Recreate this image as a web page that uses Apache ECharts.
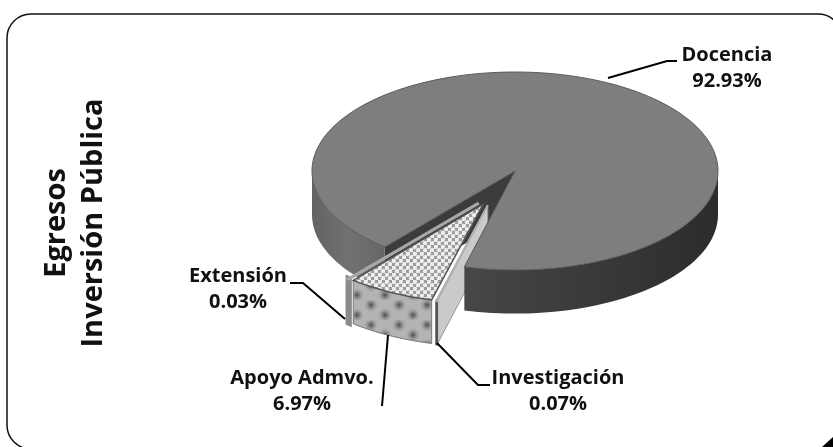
<!DOCTYPE html>
<html>
<head>
<meta charset="utf-8">
<script src="https://cdn.jsdelivr.net/npm/echarts@6/dist/echarts.min.js"></script>
<style>
html, body { margin: 0; padding: 0; background: #fff; overflow: hidden; }
#main { width: 833px; height: 447px; }
</style>
</head>
<body>
<div id="main"></div>
<script>
// datos del grafico, en el orden en que giran las rebanadas
var categories = ['Docencia', 'Investigación', 'Apoyo Admvo.', 'Extensión'];
var shares = [92.93, 0.07, 6.97, 0.03];
var titleLines = ['Egresos', 'Inversión Pública'];

var START_ANGLE = 129.9; // donde empieza Docencia, en sentido horario desde el este
var DEPTH = 0.44;        // alto del cilindro, en unidades del eje y
var EXPLODE = 0.37;      // separacion de las rebanadas
var FONT = '"Open Sans", sans-serif';

// texturas de Apoyo Admvo.
function dotPattern() {
  var c = document.createElement('canvas');
  c.width = 7; c.height = 7;
  var g = c.getContext('2d');
  g.fillStyle = '#9c9c9c';
  g.fillRect(0, 0, 7, 7);
  g.fillStyle = '#eeeeee';
  [[1.75, 1.75], [5.25, 5.25]].forEach(function (p) {
    g.beginPath(); g.arc(p[0], p[1], 2.3, 0, Math.PI * 2); g.fill();
  });
  return c;
}
function blobPattern() {
  var c = document.createElement('canvas');
  c.width = 28; c.height = 20;
  var g = c.getContext('2d');
  g.fillStyle = '#b4b4b4';
  g.fillRect(0, 0, 28, 20);
  [[7, 5], [21, 15]].forEach(function (p) {
    var r = g.createRadialGradient(p[0], p[1], 1, p[0], p[1], 8);
    r.addColorStop(0, '#5e5e5e');
    r.addColorStop(1, 'rgba(180,180,180,0)');
    g.fillStyle = r;
    g.fillRect(0, 0, 28, 20);
  });
  return c;
}
var dotFill = { image: dotPattern(), repeat: 'repeat' };
var blobFill = { image: blobPattern(), repeat: 'repeat' };

// angulos de cada rebanada a partir de los porcentajes
function sliceAngles(i) {
  var total = shares.reduce(function (a, b) { return a + b; }, 0);
  var before = 0;
  for (var k = 0; k < i; k++) before += shares[k];
  return [START_ANGLE + before / total * 360, START_ANGLE + (before + shares[i]) / total * 360];
}

function rim(a0, a1, ox, oy, dz) {
  var pts = [];
  var n = Math.max(2, Math.ceil(Math.abs(a1 - a0) / 2));
  for (var i = 0; i <= n; i++) {
    var a = (a0 + (a1 - a0) * i / n) * Math.PI / 180;
    pts.push([ox + Math.cos(a), oy - Math.sin(a) - dz]);
  }
  return pts;
}

function renderItem(params, api) {
  var i = params.dataIndex;
  var ang = sliceAngles(i);
  var a0 = ang[0], a1 = ang[1];
  var mid = (a0 + a1) / 2;
  var ox = 0, oy = 0;
  if (i > 0) {
    // las rebanadas separadas salen casi juntas
    var dir = (115 + (mid - 360 - 117) * 0.3) * Math.PI / 180;
    ox = EXPLODE * Math.cos(dir);
    oy = -EXPLODE * Math.sin(dir);
  }
  function poly(points, style, z2) {
    return {
      type: 'polygon', z2: z2,
      shape: { points: points.map(function (p) { return api.coord(p); }) },
      style: style
    };
  }
  var top = rim(a0, a1, ox, oy, 0);
  var low = rim(a0, a1, ox, oy, DEPTH);
  var wedge = [[ox, oy]].concat(top);
  var outer = top.concat(low.slice().reverse());
  var first = top[0];
  var children = [];

  if (i === 0) {
    // cara del corte dentro de la muesca
    children.push(poly([[0, 0], first, [first[0], first[1] - DEPTH], [0, -DEPTH]],
      { fill: '#3c3c3c' }, 1));
    // pared frontal, izquierda y derecha
    children.push(poly(rim(a0, 180, 0, 0, 0).concat(rim(a0, 180, 0, 0, DEPTH).reverse()), {
      fill: new echarts.graphic.LinearGradient(0, 0, 1, 0, [
        { offset: 0, color: '#636363' }, { offset: 0.5, color: '#717171' }, { offset: 1, color: '#666666' }
      ])
    }, 3));
    children.push(poly(rim(360, a1, 0, 0, 0).concat(rim(360, a1, 0, 0, DEPTH).reverse()), {
      fill: new echarts.graphic.LinearGradient(0, 0, 1, 0, [
        { offset: 0, color: '#474747' }, { offset: 0.6, color: '#373737' }, { offset: 1, color: '#2c2c2c' }
      ])
    }, 3));
    children.push(poly(wedge, { fill: '#7e7e7e', stroke: '#5a5a5a', lineWidth: 1 }, 4));
  } else if (i === 1) {
    // Investigacion: casi nula, se ve su cara interior
    children.push(poly([[ox, oy], first, [first[0], first[1] - DEPTH], [ox, oy - DEPTH]],
      { fill: '#cacaca', stroke: '#9a9a9a', lineWidth: 1 }, 2));
    children.push(poly(outer, { fill: '#8f8f8f', stroke: '#555555', lineWidth: 2 }, 8));
    children.push(poly(wedge, { fill: '#d8d8d8', stroke: '#b0b0b0', lineWidth: 2 }, 9));
  } else if (i === 2) {
    children.push(poly(outer, { fill: blobFill, stroke: '#777777', lineWidth: 1 }, 6));
    children.push(poly(wedge, { fill: dotFill, stroke: '#555555', lineWidth: 1.5 }, 7));
  } else {
    // Extension
    children.push(poly(outer, { fill: '#8a8a8a', stroke: '#8a8a8a', lineWidth: 6 }, 8));
    children.push(poly(wedge, { fill: '#c0c0c0', stroke: '#a8a8a8', lineWidth: 3 }, 9));
  }
  return { type: 'group', children: children };
}

function label(i, cx, y) {
  return {
    type: 'text', x: cx, y: y,
    style: {
      text: categories[i] + '\n' + shares[i].toFixed(2) + '%',
      textAlign: 'center', textVerticalAlign: 'top',
      font: 'bold 20px ' + FONT, lineHeight: 26, fill: '#111'
    }
  };
}
function leader(points) {
  return { type: 'polyline', z: 10, shape: { points: points }, style: { stroke: '#000', lineWidth: 2, fill: null } };
}
function titleText(text, x) {
  return {
    type: 'text', x: x, y: 223, rotation: Math.PI / 2,
    style: { text: text, textAlign: 'center', textVerticalAlign: 'middle', font: 'bold 29px ' + FONT, fill: '#111' }
  };
}

var chart = echarts.init(document.getElementById('main'));
chart.setOption({
  animation: false,
  backgroundColor: '#fff',
  grid: { left: 312, width: 406, top: 72, height: 297 },
  xAxis: { type: 'value', min: -1, max: 1, show: false },
  yAxis: { type: 'value', min: -2, max: 1, show: false },
  series: [{
    type: 'custom',
    coordinateSystem: 'cartesian2d',
    clip: false,
    silent: true,
    renderItem: renderItem,
    data: shares.map(function (v, i) { return { name: categories[i], value: [i, v] }; })
  }],
  graphic: [
    { type: 'rect', shape: { x: 7, y: 14, width: 835, height: 435, r: 24 },
      style: { fill: 'none', stroke: '#111', lineWidth: 1.5 } },
    { type: 'polygon', shape: { points: [[822, 447], [833, 437], [833, 447]] }, style: { fill: '#000' } },
    titleText(titleLines[0], 57),
    titleText(titleLines[1], 94),
    label(0, 727, 42),
    label(3, 238, 263),
    label(2, 302, 365),
    label(1, 558, 365),
    leader([[608, 78], [667, 61], [677, 61]]),
    leader([[290, 283], [303, 283], [345, 319]]),
    leader([[382, 406], [388, 335]]),
    leader([[437, 343], [478, 385], [490, 385]])
  ]
});
</script>
</body>
</html>
